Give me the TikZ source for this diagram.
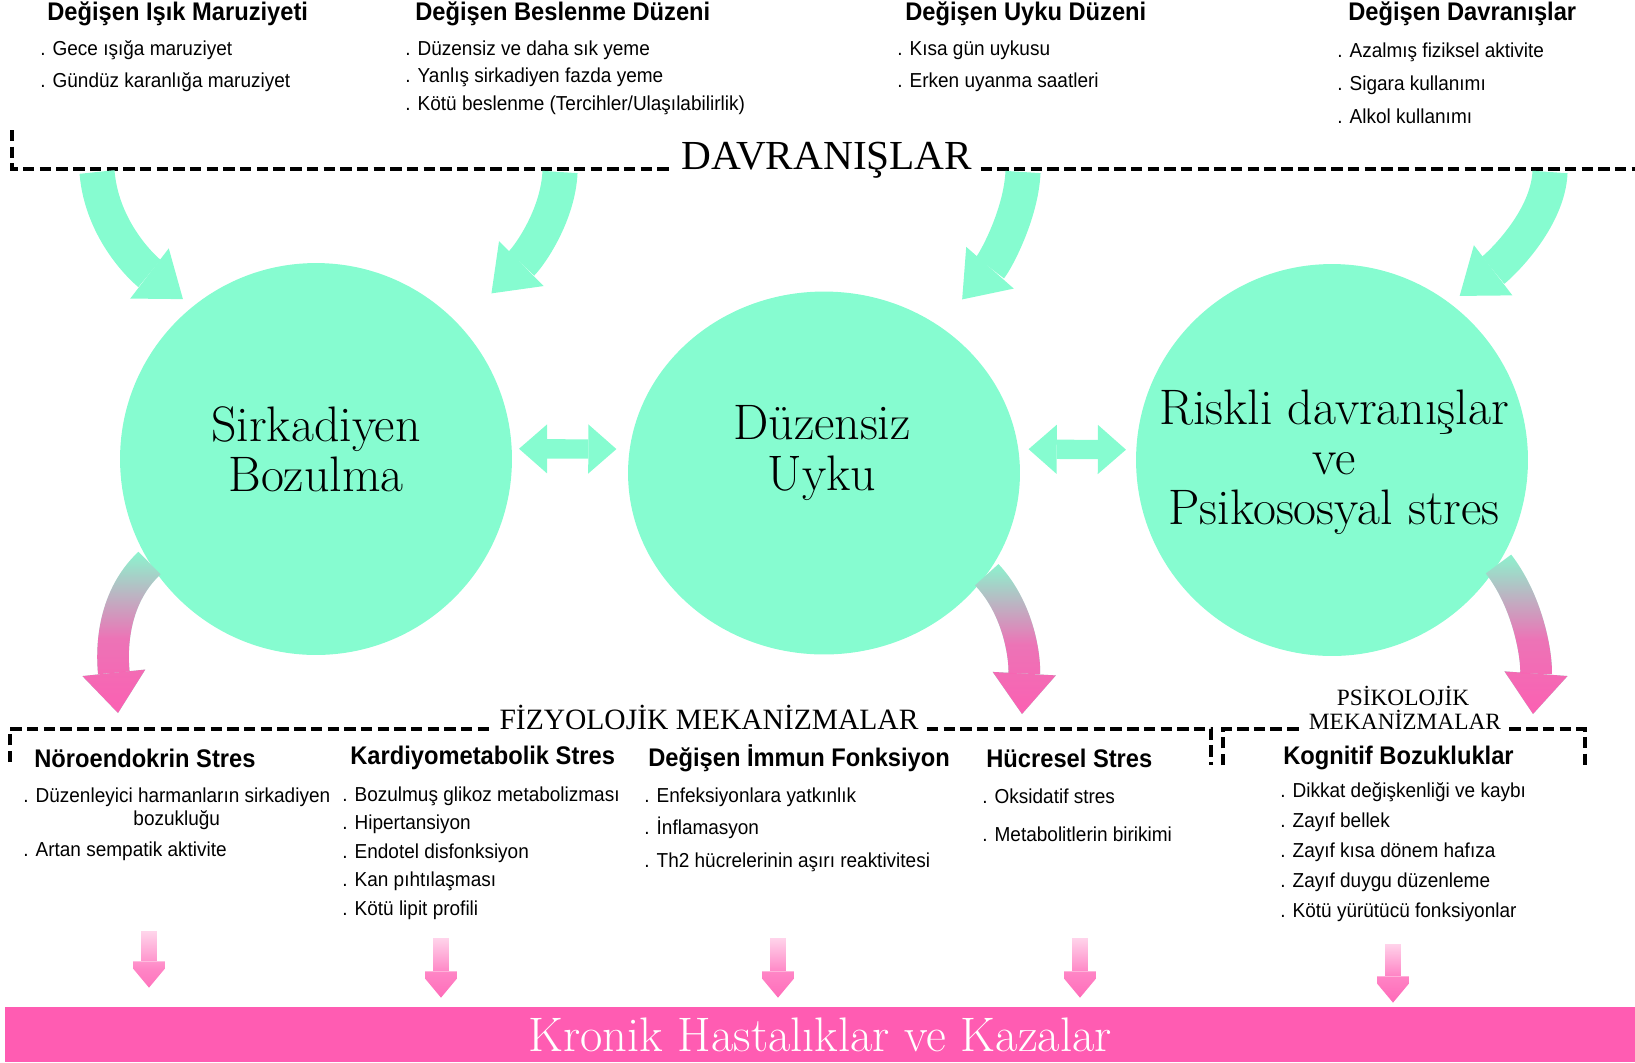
\documentclass[tikz,border=0pt]{standalone}
\usepackage{fontspec}
\usetikzlibrary{arrows.meta,shapes.geometric,fadings}
\newfontfamily\headfont[FakeStretch=0.93]{Liberation Sans}
\newfontfamily\listfont[FakeStretch=0.94]{Liberation Sans}
\newfontfamily\rulefont{Liberation Serif}
\definecolor{mint}{RGB}{134,252,208}
\definecolor{rose}{RGB}{255,92,178}
\tikzfading[name=greentopink, top color=transparent!100, bottom color=transparent!0, middle color=transparent!15]
\tikzfading[name=paledrop, top color=transparent!85, bottom color=transparent!0, middle color=transparent!25]
\tikzset{
  head/.style={anchor=west, inner sep=0pt, font=\headfont\bfseries\fontsize{14.5}{17}\selectfont},
  items/.style={anchor=west, inner sep=0pt, align=left, font=\listfont\fontsize{11.5}{#1}\selectfont},
  dashrule/.style={line width=2.2pt, dash pattern=on 6.5pt off 3pt},
  rulelabel/.style={anchor=base, inner xsep=0.16cm, inner ysep=0pt, font=\rulefont\fontsize{#1}{#1}\selectfont},
  blob/.style={ellipse, fill=mint, inner sep=0pt, minimum width=7.84cm, minimum height=7.84cm},
  blobtext/.style={align=center, inner sep=0pt, font=\fontsize{28.4}{28.5}\selectfont},
  greenarrow/.style={draw=mint, line width=20pt, -{Triangle[width=36pt,length=24pt,line width=0pt]}},
  bothways/.style={draw=mint, line width=11pt,
    {Triangle[width=28pt,length=16pt,line width=0pt]}-{Triangle[width=28pt,length=16pt,line width=0pt]}},
  pinkarrow/.style={draw=mint, line width=18pt, -{Triangle[width=36pt,length=23pt,line width=0pt]},
    postaction={draw=rose, path fading=greentopink}},
  pinkdrop/.style={draw=rose, line width=9pt, -{Triangle[width=25pt,length=15pt,line width=0pt]}, path fading=paledrop}
}
\begin{document}
\begin{tikzpicture}[x=0.02cm, y=-0.02cm]
\useasboundingbox (0,0) rectangle (1635,1062);

% behaviours
\node[head] (h1) at (47,14) {Değişen Işık Maruziyeti};
\node[head] (h2) at (415,14) {Değişen Beslenme Düzeni};
\node[head] (h3) at (905,14) {Değişen Uyku Düzeni};
\node[head] (h4) at (1348,14) {Değişen Davranışlar};
\node[items=18.1pt] (l1) at (40,66) {. Gece ışığa maruziyet\\. Gündüz karanlığa maruziyet};
\node[items=15.6pt] (l2) at (405,77.5) {. Düzensiz ve daha sık yeme\\. Yanlış sirkadiyen fazda yeme\\. Kötü beslenme (Tercihler/Ulaşılabilirlik)};
\node[items=18.1pt] (l3) at (897,66) {. Kısa gün uykusu\\. Erken uyanma saatleri};
\node[items=18.7pt] (l4) at (1337,83) {. Azalmış fiziksel aktivite\\. Sigara kullanımı\\. Alkol kullanımı};

\node[rulelabel=23.5] (dav) at (827,169) {DAVRANIŞLAR};
\draw[dashrule] (12,130) -- (12,169) -- (dav.base west);
\draw[dashrule] (dav.base east) -- (1635,169);

% the three circles
\node[blob] (c1) at (316,459) {};
\node[blob, minimum height=7.26cm] (c2) at (824,473) {};
\node[blob] (c3) at (1332,460) {};
\node[blobtext] (t1) at (316,449) {Sirkadiyen\\Bozulma};
\node[blobtext] (t2) at (822,453) {Düzensiz\\Uyku};
\node[blobtext] (t3) at (1334,462) {Riskli davranışlar\\ve\\Psikososyal stres};

\coordinate (a1) at (97,172);
\coordinate (a2) at (560,172);
\coordinate (a3) at (1023,172);
\coordinate (a4) at (1550,172);
\draw[greenarrow, shorten >=0.24cm] (a1) .. controls (102,232) and (145,270) .. (c1.129);
\draw[greenarrow, shorten >=0.9cm] (a2) .. controls (558,215) and (530,255) .. (c1.43);
\draw[greenarrow, shorten >=0.7cm] (a3) .. controls (1021,215) and (995,262) .. (c2.52);
\draw[greenarrow, shorten >=0.24cm] (a4) .. controls (1548,220) and (1500,265) .. (c3.53);

\draw[bothways, shorten <=0.14cm, shorten >=0.26cm] (c1.3) -- (c2.173);
\draw[bothways, shorten <=0.2cm, shorten >=0.2cm] (c2.7) -- (c3.177);

\coordinate (p1) at (118,713);
\coordinate (p2) at (1022,714);
\coordinate (p3) at (1533,714);
\draw[pinkarrow] (c1.212) .. controls (110,600) and (112,655) .. (p1);
\draw[pinkarrow] (c2.-32) .. controls (1020,610) and (1025,660) .. (p2);
\draw[pinkarrow] (c3.-32) .. controls (1530,605) and (1537,660) .. (p3);

% mechanisms
\node[rulelabel=16.8] (fiz) at (709,729) {FİZYOLOJİK MEKANİZMALAR};
\draw[dashrule] (10,762) -- (10,729) -- (fiz.base west);
\draw[dashrule] (fiz.base east) -- (1211,729) -- (1211,765);
\node[rulelabel=13.3] (psy1) at (1403,705) {PSİKOLOJİK};
\node[rulelabel=13.3] (psy) at (1405,729) {MEKANİZMALAR};
\draw[dashrule] (1223,765) -- (1223,729) -- (psy.base west);
\draw[dashrule] (psy.base east) -- (1585,729) -- (1585,765);

\node[head] (m1) at (34,758) {Nöroendokrin Stres};
\node[head] (m2) at (350,758) {Kardiyometabolik Stres};
\node[head] (m3) at (648,758) {Değişen İmmun Fonksiyon};
\node[head] (m4) at (986,758) {Hücresel Stres};
\node[head] (m5) at (1283,758) {Kognitif Bozukluklar};
\node[items=13pt, align=center] (k1) at (23,808.5) {. Düzenleyici harmanların sirkadiyen\\bozukluğu};
\node[items=13pt] (k1b) at (23,851) {. Artan sempatik aktivite};
\node[items=16.2pt] (k2) at (342,853) {. Bozulmuş glikoz metabolizması\\. Hipertansiyon\\. Endotel disfonksiyon\\. Kan pıhtılaşması\\. Kötü lipit profili};
\node[items=18.4pt] (k3) at (644,829.5) {. Enfeksiyonlara yatkınlık\\. İnflamasyon\\. Th2 hücrelerinin aşırı reaktivitesi};
\node[items=21.5pt] (k4) at (982,815) {. Oksidatif stres\\. Metabolitlerin birikimi};
\node[items=17.1pt] (k5) at (1280,852.5) {. Dikkat değişkenliği ve kaybı\\. Zayıf bellek\\. Zayıf kısa dönem hafıza\\. Zayıf duygu düzenleme\\. Kötü yürütücü fonksiyonlar};

% outcome
\node[fill=rose, minimum width=32.6cm, minimum height=1.1cm, inner sep=0pt, text=white, font=\fontsize{27.6}{27.6}\selectfont] (bar) at (820,1034.5) {Kronik Hastalıklar ve Kazalar};
\coordinate (d1) at (149,931);
\coordinate (d2) at (441,938);
\coordinate (d3) at (778,938);
\coordinate (d4) at (1080,938);
\coordinate (d5) at (1393,944);
\draw[pinkdrop, shorten >=0.38cm] (d1) -- (d1 |- bar.north);
\draw[pinkdrop, shorten >=0.18cm] (d2) -- (d2 |- bar.north);
\draw[pinkdrop, shorten >=0.18cm] (d3) -- (d3 |- bar.north);
\draw[pinkdrop, shorten >=0.18cm] (d4) -- (d4 |- bar.north);
\draw[pinkdrop, shorten >=0.08cm] (d5) -- (d5 |- bar.north);
\end{tikzpicture}
\end{document}
